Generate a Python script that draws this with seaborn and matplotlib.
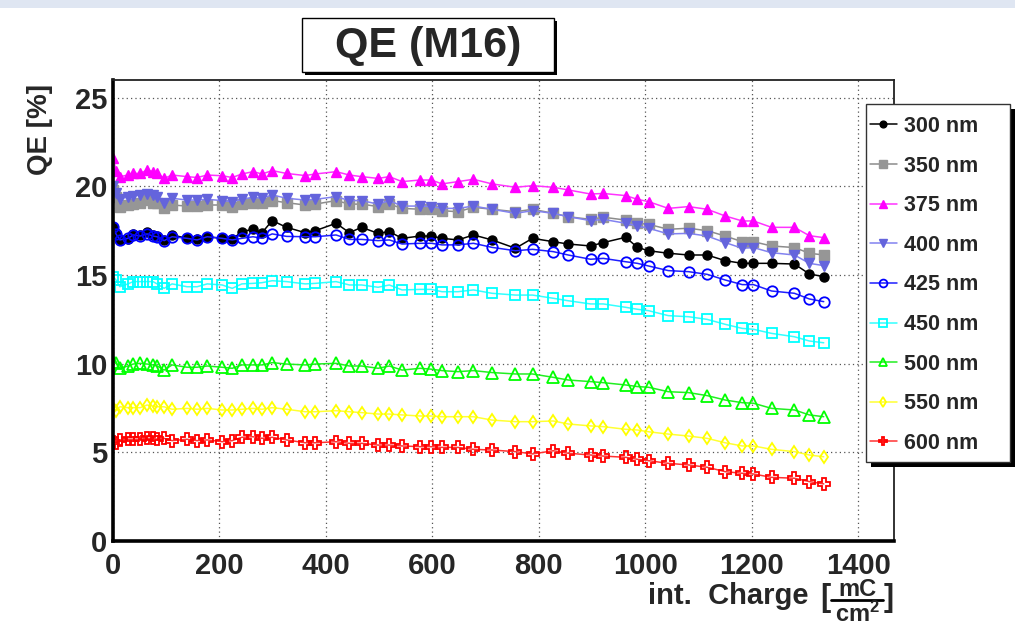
import matplotlib
matplotlib.use("Agg")
import matplotlib.pyplot as plt
from matplotlib.patches import Rectangle
from matplotlib.lines import Line2D
from matplotlib.ticker import MultipleLocator
import seaborn as sns
import pandas as pd

# integrated charge [mC/cm^2] at each measurement
charge = [0.5, 5.6, 13, 28, 38, 51, 64, 75, 83, 96, 111, 139, 158, 177, 205, 224, 242, 263,
          280, 299, 326, 361, 380, 419, 444, 467, 498, 519, 543, 577, 598, 618, 648, 677,
          712, 756, 788, 827, 855, 897, 921, 963, 985, 1006, 1043, 1081, 1116, 1150, 1182,
          1203, 1237, 1280, 1308, 1335]

qe_300 = [17.73, 17.35, 16.98, 17.01, 17.32, 17.26, 17.45, 17.26, 17.20, 16.98, 17.26, 17.07,
          17.01, 17.16, 17.07, 17.01, 17.45, 17.58, 17.39, 18.07, 17.69,
          17.39, 17.50, 17.92, 17.39, 17.69, 17.35, 17.45, 17.07, 17.20, 17.20, 17.07, 16.98,
          17.26, 16.98, 16.51, 17.07, 16.88, 16.75,
          16.64, 16.83, 17.13, 16.56, 16.37, 16.23, 16.13, 16.13, 15.81, 15.66, 15.66, 15.66,
          15.62, 15.06, 14.91]
qe_350 = [19.80, 19.42, 18.86, 18.95, 19.00, 19.05, 19.23, 19.08, 19.05, 18.76, 18.95, 18.89,
          18.89, 18.95, 18.95, 18.82, 19.00, 19.05, 19.08, 19.20, 19.08,
          18.95, 19.00, 19.20, 19.00, 19.00, 18.86, 19.00, 18.76, 18.71, 18.71, 18.63, 18.57,
          18.82, 18.71, 18.57, 18.71, 18.48, 18.29,
          18.14, 18.26, 18.10, 17.92, 17.86, 17.58, 17.64, 17.50, 17.20, 16.88, 16.88, 16.64,
          16.55, 16.23, 16.13]
qe_375 = [21.58, 20.89, 20.55, 20.64, 20.73, 20.73, 20.92, 20.83, 20.73, 20.45, 20.64, 20.55,
          20.50, 20.64, 20.60, 20.50, 20.70, 20.83, 20.70, 20.89, 20.73,
          20.61, 20.70, 20.83, 20.64, 20.55, 20.45, 20.55, 20.27, 20.36, 20.36, 20.14, 20.27,
          20.40, 20.14, 19.95, 20.04, 19.95, 19.80,
          19.57, 19.60, 19.48, 19.27, 19.14, 18.76, 18.86, 18.71, 18.33, 18.05, 18.05, 17.69,
          17.69, 17.22, 17.11]
qe_400 = [20.02, 19.61, 19.27, 19.42, 19.46, 19.52, 19.57, 19.52, 19.39, 19.08, 19.33, 19.23,
          19.23, 19.27, 19.20, 19.14, 19.27, 19.39, 19.33, 19.52, 19.33,
          19.23, 19.27, 19.42, 19.20, 19.20, 19.00, 19.20, 18.89, 18.89, 18.86, 18.76, 18.76,
          18.89, 18.71, 18.48, 18.63, 18.48, 18.29,
          18.07, 18.14, 17.92, 17.77, 17.64, 17.32, 17.35, 17.20, 16.83, 16.51, 16.55, 16.26,
          16.13, 15.66, 15.53]
qe_425 = [17.69, 17.32, 16.98, 17.07, 17.26, 17.20, 17.32, 17.20, 17.16, 16.94, 17.16, 17.07,
          16.98, 17.16, 17.07, 16.98, 17.07, 17.16, 17.07, 17.32, 17.18,
          17.16, 17.16, 17.26, 17.01, 17.01, 16.94, 16.98, 16.75, 16.79, 16.79, 16.70, 16.70,
          16.79, 16.56, 16.37, 16.45, 16.32, 16.13,
          15.89, 15.94, 15.75, 15.66, 15.51, 15.25, 15.19, 15.04, 14.72, 14.46, 14.46, 14.10,
          13.97, 13.65, 13.50]
qe_450 = [14.91, 14.72, 14.34, 14.50, 14.63, 14.63, 14.63, 14.63, 14.50, 14.25, 14.50, 14.34,
          14.34, 14.50, 14.44, 14.25, 14.50, 14.53, 14.57, 14.68, 14.63,
          14.50, 14.53, 14.63, 14.44, 14.44, 14.31, 14.44, 14.16, 14.19, 14.19, 14.06, 14.06,
          14.16, 13.97, 13.87, 13.87, 13.69, 13.55,
          13.37, 13.37, 13.18, 13.07, 12.99, 12.71, 12.65, 12.50, 12.22, 11.99, 11.94, 11.71,
          11.52, 11.28, 11.18]
qe_500 = [10.11, 10.02, 9.74, 9.87, 9.98, 10.02, 9.98, 9.93, 9.87, 9.64, 9.93, 9.80,
          9.80, 9.87, 9.80, 9.74, 9.93, 9.93, 9.93, 10.06, 9.98,
          9.93, 9.98, 10.02, 9.87, 9.87, 9.74, 9.87, 9.64, 9.74, 9.69, 9.61, 9.55,
          9.61, 9.50, 9.42, 9.42, 9.23, 9.08,
          8.99, 8.93, 8.80, 8.71, 8.67, 8.42, 8.37, 8.20, 7.95, 7.80, 7.77, 7.48,
          7.39, 7.11, 7.01]
qe_550 = [7.48, 7.35, 7.57, 7.52, 7.52, 7.52, 7.67, 7.61, 7.57, 7.57, 7.43, 7.48,
          7.43, 7.48, 7.39, 7.39, 7.43, 7.48, 7.43, 7.52, 7.43,
          7.29, 7.29, 7.35, 7.29, 7.24, 7.16, 7.16, 7.11, 7.05, 7.05, 7.01, 7.01,
          7.01, 6.82, 6.73, 6.73, 6.77, 6.60,
          6.49, 6.45, 6.30, 6.26, 6.16, 6.03, 5.92, 5.79, 5.54, 5.36, 5.36, 5.17,
          5.04, 4.85, 4.75]
qe_600 = [5.60, 5.54, 5.70, 5.74, 5.74, 5.74, 5.79, 5.79, 5.74, 5.79, 5.66, 5.74,
          5.66, 5.70, 5.60, 5.66, 5.85, 5.88, 5.79, 5.85, 5.70,
          5.54, 5.54, 5.60, 5.51, 5.51, 5.41, 5.41, 5.36, 5.32, 5.32, 5.28, 5.28,
          5.17, 5.13, 5.04, 4.91, 5.09, 4.95,
          4.85, 4.79, 4.72, 4.61, 4.53, 4.38, 4.29, 4.16, 3.91, 3.82, 3.78, 3.59,
          3.54, 3.35, 3.22]

labels = ["300 nm", "350 nm", "375 nm", "400 nm", "425 nm", "450 nm", "500 nm", "550 nm", "600 nm"]
series = [qe_300, qe_350, qe_375, qe_400, qe_425, qe_450, qe_500, qe_550, qe_600]

# marker colour, marker, marker size, filled?
styles = [
    ("#000000", "o", 6.5, True),
    ("#969696", "s", 7.0, True),
    ("#ff00ff", "^", 7.0, True),
    ("#6464dc", "v", 7.5, True),
    ("#0000ff", "o", 7.5, False),
    ("#00ffff", "s", 7.5, False),
    ("#00ff00", "^", 8.0, False),
    ("#ffff00", "d", 6.5, False),
    ("#ff0000", "P", 8.0, False),
]
line_colors = ["#000000", "#8c8c8c", "#ff33ff", "#8282f0", "#1e1eff", "#33ffff",
               "#22ee22", "#ffff33", "#ff3333"]

sns.set_style("white")
plt.rcParams["font.family"] = ["Liberation Sans", "DejaVu Sans"]
plt.rcParams["font.weight"] = "bold"
plt.rcParams["mathtext.fontset"] = "custom"
plt.rcParams["mathtext.rm"] = "Liberation Sans:bold"
plt.rcParams["mathtext.it"] = "Liberation Sans:bold"
plt.rcParams["mathtext.bf"] = "Liberation Sans:bold"

W, H = 1015, 628
fig = plt.figure(figsize=(W / 100, H / 100), dpi=100)
fig.patch.set_facecolor("white")


def fy(py):
    """pixel row from the top -> figure fraction"""
    return 1 - py / H


# pale band along the top edge
fig.patches.append(Rectangle((0, fy(8)), 1, 8 / H, transform=fig.transFigure,
                             facecolor="#dfe6f2", edgecolor="none", zorder=0))

ax = fig.add_axes([113 / W, 87 / H, 781 / W, 461 / H])

df = pd.DataFrame({"charge": charge})
handles = []
for lab, vals, (col, mk, ms, filled), lc in zip(labels, series, styles, line_colors):
    df[lab] = vals
    sns.lineplot(data=df, x="charge", y=lab, ax=ax, color=lc, lw=1.1, sort=False,
                 marker=mk, markersize=ms, markeredgecolor=col,
                 markerfacecolor=col if filled else "none",
                 markeredgewidth=1.0 if filled else 1.3, label=lab, legend=False)
    handles.append(ax.lines[-1])

ax.set_xlim(0, 1467)
ax.set_ylim(0, 26)
ax.xaxis.set_major_locator(MultipleLocator(200))
ax.xaxis.set_minor_locator(MultipleLocator(50))
ax.yaxis.set_major_locator(MultipleLocator(5))
ax.yaxis.set_minor_locator(MultipleLocator(1))
ax.set_xlabel("")
ax.set_ylabel("")

ax.grid(True, which="major", color="#555555", linestyle=(0, (1, 2.5)), linewidth=0.9)
ax.set_axisbelow(True)

ax.tick_params(axis="x", which="major", direction="in", length=10, width=1.3, pad=8,
               labelsize=21, top=False)
ax.tick_params(axis="x", which="minor", direction="in", length=5.5, width=1.1, top=False)
ax.tick_params(axis="y", which="major", direction="in", length=16, width=1.3, pad=4,
               labelsize=21, right=False)
ax.tick_params(axis="y", which="minor", direction="in", length=8, width=1.1, right=False)
for t in ax.get_xticklabels() + ax.get_yticklabels():
    t.set_fontweight("bold")

for side in ("left", "bottom"):
    ax.spines[side].set_linewidth(2.6)
    ax.spines[side].set_color("black")
for side in ("top", "right"):
    ax.spines[side].set_linewidth(1.3)
    ax.spines[side].set_color("#222222")

# axis titles
fig.text(40 / W, fy(84), "QE [%]", rotation=90, ha="center", va="top",
         fontsize=20, fontweight="bold")
fig.text(808 / W, fy(604), "int.  Charge", ha="right", va="baseline",
         fontsize=21, fontweight="bold")
fig.text(825 / W, fy(606), "[", ha="center", va="baseline", fontsize=22, fontweight="bold")
fig.text(889 / W, fy(606), "]", ha="center", va="baseline", fontsize=22, fontweight="bold")
fig.text(857 / W, fy(596), "mC", ha="center", va="baseline", fontsize=17, fontweight="bold")
fig.text(857 / W, fy(622), r"cm$^{2}$", ha="center", va="baseline", fontsize=17,
         fontweight="bold")
fig.add_artist(Line2D([831 / W, 883 / W], [fy(600), fy(600)], transform=fig.transFigure,
                      color="black", linewidth=2.0))

# title box with drop shadow
tx0, ty0, tx1, ty1 = 302, 18, 554, 72
fig.patches.append(Rectangle((tx0 / W + 3 / W, fy(ty1 + 3)), (tx1 - tx0) / W,
                             (ty1 - ty0) / H, transform=fig.transFigure,
                             facecolor="black", edgecolor="none", zorder=3))
fig.patches.append(Rectangle((tx0 / W, fy(ty1)), (tx1 - tx0) / W, (ty1 - ty0) / H,
                             transform=fig.transFigure, facecolor="white",
                             edgecolor="black", linewidth=1.0, zorder=4))
fig.text((tx0 + tx1) / 2 / W, fy(46), "QE (M16)", ha="center", va="center",
         fontsize=31, fontweight="bold", zorder=5)

# legend box with drop shadow
lx0, ly0, lx1, ly1 = 866, 104, 1010, 462
fig.patches.append(Rectangle(((lx0 + 5) / W, fy(ly1 + 5)), (lx1 - lx0) / W,
                             (ly1 - ly0) / H, transform=fig.transFigure,
                             facecolor="black", edgecolor="none", zorder=3))
fig.patches.append(Rectangle((lx0 / W, fy(ly1)), (lx1 - lx0) / W, (ly1 - ly0) / H,
                             transform=fig.transFigure, facecolor="white",
                             edgecolor="#333333", linewidth=1.0, zorder=4))
leg = fig.legend(handles, labels, loc="upper left",
                 bbox_to_anchor=(870 / W, fy(116)), bbox_transform=fig.transFigure,
                 frameon=False, borderpad=0, borderaxespad=0, handlelength=1.25,
                 handletextpad=0.35, labelspacing=0.865, prop={"size": 15.5, "weight": "bold"},
                 markerscale=0.75)
leg.set_zorder(6)

fig.savefig("out.png", dpi=100)
